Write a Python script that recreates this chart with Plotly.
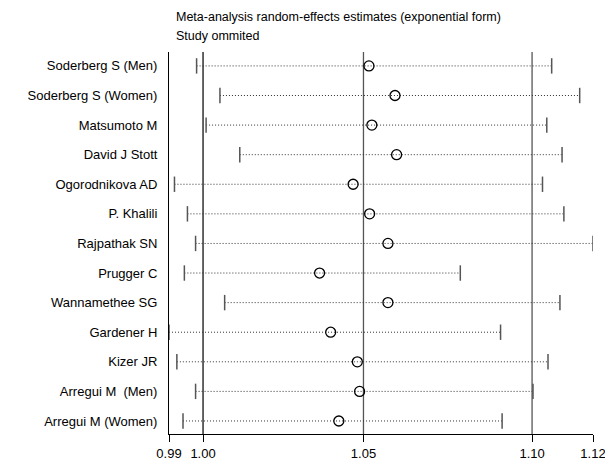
import plotly.graph_objects as go
import math

studies = ["Soderberg S (Men)", "Soderberg S (Women)", "Matsumoto M", "David J Stott",
           "Ogorodnikova AD", "P. Khalili", "Rajpathak SN", "Prugger C",
           "Wannamethee SG", "Gardener H", "Kizer JR", "Arregui M  (Men)", "Arregui M (Women)"]
estimate = [1.0517, 1.0598, 1.0526, 1.0603, 1.0468, 1.0519, 1.0576, 1.0365,
            1.0576, 1.0399, 1.0481, 1.0488, 1.0424]
lower = [0.9996, 1.0065, 1.0024, 1.0124, 0.9931, 0.9969, 0.9993, 0.9960,
         1.0079, 0.9915, 0.9938, 0.9993, 0.9956]
upper = [1.1099, 1.1191, 1.1083, 1.1133, 1.1069, 1.1139, 1.1235, 1.0804,
         1.1126, 1.0933, 1.1087, 1.1038, 1.0938]
overall = [1.0015, 1.0500, 1.1035]          # overall lower CI, estimate, upper CI
axis_ticks = [0.9915, 1.0015, 1.0500, 1.1035, 1.1235]
axis_labels = ["0.99", "1.00", "1.05", "1.10", "1.12"]

FONT = "Liberation Sans, Arial, Helvetica"
rows = list(range(len(studies)))
fig = go.Figure()

# dotted CI lines
for i in rows:
    fig.add_trace(go.Scatter(x=[lower[i], upper[i]], y=[i, i], mode="lines",
                             line=dict(color="#333333", width=1, dash="1px,2px"),
                             hoverinfo="skip", showlegend=False))
# end caps
fig.add_trace(go.Scatter(x=lower + upper, y=rows + rows, mode="markers",
                         marker=dict(symbol="line-ns", size=11,
                                     line=dict(color="#555555", width=1.5)),
                         hoverinfo="skip", showlegend=False))
# estimates
fig.add_trace(go.Scatter(x=estimate, y=rows, mode="markers",
                         marker=dict(symbol="circle-open", size=10, color="black",
                                     line=dict(color="black", width=1.3)),
                         hoverinfo="skip", showlegend=False))

for j, v in enumerate(overall):
    fig.add_shape(type="line", xref="x", yref="paper", x0=v, x1=v, y0=0, y1=1,
                  line=dict(color="#111111" if j == 0 else "#555555", width=1.3),
                  layer="below")

fig.add_annotation(text="Meta-analysis random-effects estimates (exponential form)",
                   xref="paper", yref="paper", x=0.012, y=1.0, yshift=35,
                   xanchor="left", yanchor="middle", showarrow=False,
                   font=dict(family=FONT, size=12.5, color="black"))
fig.add_annotation(text="Study ommited",
                   xref="paper", yref="paper", x=0.012, y=1.0, yshift=16,
                   xanchor="left", yanchor="middle", showarrow=False,
                   font=dict(family=FONT, size=12.5, color="black"))

fig.update_layout(
    width=605, height=453,
    margin=dict(l=161, r=20, t=44, b=27),
    plot_bgcolor="white", paper_bgcolor="white",
    font=dict(family=FONT, size=13, color="black"),
    xaxis=dict(type="log", automargin=False,
               range=[math.log10(axis_ticks[0]), math.log10(axis_ticks[-1])],
               tickvals=axis_ticks, ticktext=axis_labels,
               showgrid=False, zeroline=False, showline=True, linecolor="black",
               linewidth=1, ticks="outside", ticklen=7, tickcolor="black",
               tickfont=dict(size=13)),
    yaxis=dict(range=[12.44, -0.47], tickvals=rows, ticktext=studies, automargin=False,
               showgrid=False, zeroline=False, showline=True, linecolor="black",
               linewidth=1, ticks="", ticklabelstandoff=8,
               tickfont=dict(size=13)),
)

fig.write_html("out.html")
